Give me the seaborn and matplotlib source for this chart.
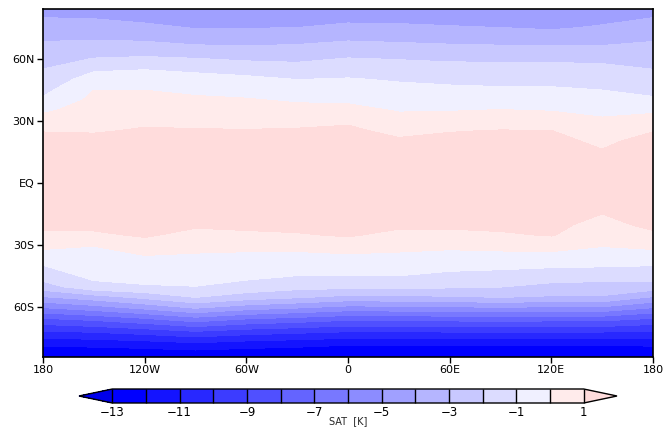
import numpy as np
import matplotlib
matplotlib.use("Agg")
import matplotlib.pyplot as plt
import seaborn as sns

# Grid nodes (degrees)
lat_nodes = [-84, -78, -72, -66, -60, -55, -50, -45, -40, -35, -30, -25, -20, -10, 0,
             10, 20, 25, 30, 35, 40, 45, 50, 55, 60, 65, 70, 75, 80, 84]
lon_nodes = [-180, -150, -120, -90, -60, -30, 0, 30, 60, 90, 120, 150]

# Surface air temperature anomaly (K) along each meridian, south to north
sat_180w = [-12.9, -11.89, -10.22, -8.31, -5.98, -4.1, -2.45, -1.60, -1.03, -0.38, 0.24, 0.80, 1.25, 1.7, 1.8,
            1.7, 1.45, 0.95, 0.40, -0.18, -0.86, -1.29, -1.66, -2.02, -2.39, -2.75, -3.14, -3.58, -4.03, -4.5]
sat_150w = [-12.9, -11.8, -10.02, -7.92, -5.42, -3.47, -1.32, -0.79, -0.53, -0.26, 0.02, 0.83, 1.25, 1.7, 1.8,
            1.7, 1.3, 0.92, 0.69, 0.46, 0.23, -0.02, -0.56, -1.18, -1.98, -2.57, -3.13, -3.61, -4.08, -4.5]
sat_120w = [-12.9, -11.64, -9.68, -7.36, -4.69, -2.74, -1.10, -0.68, -0.35, -0.02, 0.58, 1.12, 1.3, 1.7, 1.8,
            1.7, 1.35, 1.1, 0.82, 0.54, 0.27, -0.02, -0.52, -1.05, -1.87, -2.58, -3.22, -3.78, -4.3, -4.7]
sat_90w = [-12.9, -11.36, -9.23, -6.63, -3.86, -1.98, -1.02, -0.70, -0.40, -0.10, 0.29, 0.71, 1.15, 1.7, 1.8,
           1.7, 1.35, 1.07, 0.76, 0.46, 0.16, -0.22, -0.67, -1.21, -1.99, -2.79, -3.46, -4.07, -4.4, -4.7]
sat_60w = [-12.9, -11.63, -9.63, -7.24, -4.52, -2.5, -1.36, -0.81, -0.49, -0.17, 0.26, 0.80, 1.25, 1.7, 1.8,
           1.7, 1.35, 1.05, 0.72, 0.39, 0.07, -0.35, -0.79, -1.42, -2.18, -2.86, -3.48, -4.06, -4.4, -4.7]
sat_30w = [-12.9, -11.79, -9.87, -7.57, -4.9, -2.89, -1.67, -1.04, -0.62, -0.21, 0.30, 0.91, 1.3, 1.7, 1.8,
           1.7, 1.35, 1.1, 0.72, 0.31, -0.12, -0.57, -1.02, -1.63, -2.22, -2.79, -3.40, -4.01, -4.35, -4.65]
sat_0 = [-12.9, -11.97, -10.12, -7.94, -5.33, -3.3, -1.75, -1.07, -0.58, -0.12, 0.51, 1.1, 1.3, 1.7, 1.8,
         1.7, 1.4, 1.2, 0.84, 0.29, -0.18, -0.56, -0.94, -1.44, -1.97, -2.58, -3.19, -3.78, -4.3, -4.6]
sat_30e = [-12.9, -11.97, -10.1, -7.89, -5.26, -3.23, -1.74, -1.03, -0.59, -0.16, 0.28, 0.73, 1.2, 1.7, 1.8,
           1.7, 1.15, 0.74, 0.32, -0.07, -0.40, -0.74, -1.10, -1.57, -2.06, -2.68, -3.27, -3.83, -4.3, -4.6]
sat_60e = [-12.9, -11.98, -10.07, -7.83, -5.16, -3.12, -1.87, -1.26, -0.74, -0.28, 0.2, 0.73, 1.2, 1.7, 1.8,
           1.7, 1.3, 0.95, 0.44, -0.05, -0.43, -0.82, -1.23, -1.67, -2.16, -2.78, -3.36, -3.93, -4.35, -4.65]
sat_90e = [-12.9, -11.97, -10.05, -7.76, -5.06, -2.98, -1.98, -1.38, -0.80, -0.26, 0.30, 0.87, 1.25, 1.7, 1.8,
           1.7, 1.35, 1.05, 0.55, 0.03, -0.43, -0.88, -1.30, -1.71, -2.18, -2.83, -3.43, -4.01, -4.4, -4.7]
sat_120e = [-12.9, -11.98, -10.07, -7.83, -5.16, -3.12, -2.28, -1.57, -0.90, -0.27, 0.40, 1.06, 1.25, 1.7, 1.8,
            1.7, 1.35, 1.02, 0.48, -0.05, -0.47, -0.89, -1.30, -1.71, -2.19, -2.86, -3.53, -4.14, -4.5, -4.75]
sat_150e = [-12.9, -11.98, -10.07, -7.83, -5.16, -3.12, -2.36, -1.66, -0.95, -0.43, 0.05, 0.36, 0.67, 1.3, 1.6,
            1.4, 0.75, 0.43, 0.12, -0.24, -0.62, -1.02, -1.38, -1.76, -2.24, -2.87, -3.4, -3.9, -4.3, -4.6]

sat_levels = list(range(-13, 2))
cbar_ticks = [-13, -11, -9, -7, -5, -3, -1, 1]
lon_ticks = [-180, -120, -60, 0, 60, 120, 180]
lon_labels = ["180", "120W", "60W", "0", "60E", "120E", "180"]
lat_ticks = [-60, -30, 0, 30, 60]
lat_labels = ["60S", "30S", "EQ", "30N", "60N"]

sns.set_style("ticks")
plt.rcParams["font.family"] = ["DejaVu Sans"]

# close the globe: 180E repeats 180W
columns = [sat_180w, sat_150w, sat_120w, sat_90w, sat_60w, sat_30w, sat_0,
           sat_30e, sat_60e, sat_90e, sat_120e, sat_150e, sat_180w]
lons = lon_nodes + [180]
field = np.array(columns).T

# blue ramp for negative bands, pale pink for 0..1, extremes for the arrows
blues = [matplotlib.colors.to_hex(c) for c in sns.blend_palette(["#0000ff", "#f0f0ff"], 13)]
fill_colors = ["#0000eb"] + blues + ["#ffebeb"] + ["#ffdcdc"]

fig = plt.figure(figsize=(6.67, 4.30), dpi=100)
ax = fig.add_axes([43 / 667, 1 - 357 / 430, 610 / 667, 348 / 430])

cf = ax.contourf(lons, lat_nodes, field, levels=sat_levels, colors=fill_colors, extend="both")
cf.set_edgecolor("face")
cf.set_linewidth(0.4)

ax.set_xlim(-180, 180)
ax.set_ylim(-84, 84)
ax.set_xticks(lon_ticks)
ax.set_xticklabels(lon_labels)
ax.set_yticks(lat_ticks)
ax.set_yticklabels(lat_labels)
ax.tick_params(direction="out", length=4, width=1, labelsize=8, pad=2, colors="black")
for sp in ax.spines.values():
    sp.set_color("black")
    sp.set_linewidth(1.2)

cax = fig.add_axes([79 / 667, 1 - 403 / 430, 538 / 667, 14 / 430])
cb = fig.colorbar(cf, cax=cax, orientation="horizontal", extendfrac=0.0707,
                  drawedges=True, ticks=cbar_ticks)
cb.outline.set_edgecolor("black")
cb.outline.set_linewidth(1.0)
cb.dividers.set_color("black")
cb.dividers.set_linewidth(1.0)
cax.tick_params(length=0, labelsize=8.5, pad=2, colors="black")

fig.text(348 / 667, 1 - 421 / 430, "SAT  [K]", ha="center", va="center", fontsize=7)

fig.savefig("out.png", dpi=100)
